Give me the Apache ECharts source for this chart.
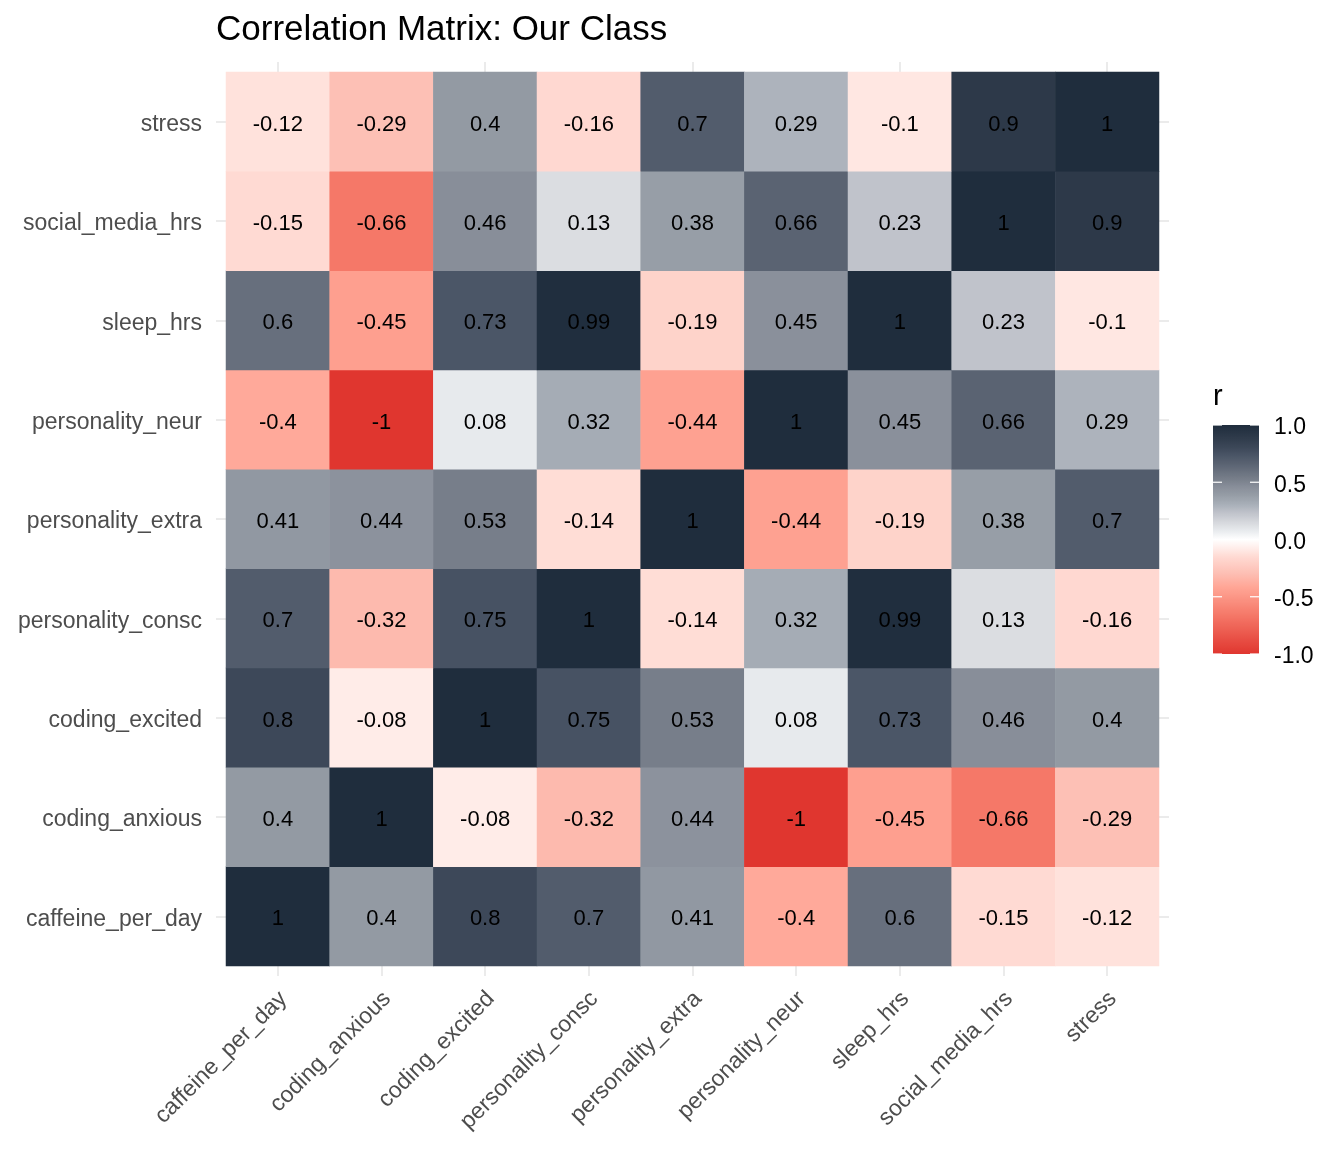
<!DOCTYPE html>
<html>
<head>
<meta charset="utf-8">
<script src="https://cdn.jsdelivr.net/npm/echarts@6/dist/echarts.min.js"></script>
<style>
  html, body { margin: 0; padding: 0; background: #fff; }
  #chart { width: 1344px; height: 1152px; }
</style>
</head>
<body>
<div id="chart"></div>
<script>
// ---- data ----
const variables = ["caffeine_per_day", "coding_anxious", "coding_excited", "personality_consc",
  "personality_extra", "personality_neur", "sleep_hrs", "social_media_hrs", "stress"];

const caffeine_per_day  = [1, 0.4, 0.8, 0.7, 0.41, -0.4, 0.6, -0.15, -0.12];
const coding_anxious    = [0.4, 1, -0.08, -0.32, 0.44, -1, -0.45, -0.66, -0.29];
const coding_excited    = [0.8, -0.08, 1, 0.75, 0.53, 0.08, 0.73, 0.46, 0.4];
const personality_consc = [0.7, -0.32, 0.75, 1, -0.14, 0.32, 0.99, 0.13, -0.16];
const personality_extra = [0.41, 0.44, 0.53, -0.14, 1, -0.44, -0.19, 0.38, 0.7];
const personality_neur  = [-0.4, -1, 0.08, 0.32, -0.44, 1, 0.45, 0.66, 0.29];
const sleep_hrs         = [0.6, -0.45, 0.73, 0.99, -0.19, 0.45, 1, 0.23, -0.1];
const social_media_hrs  = [-0.15, -0.66, 0.46, 0.13, 0.38, 0.66, 0.23, 1, 0.9];
const stress            = [-0.12, -0.29, 0.4, -0.16, 0.7, 0.29, -0.1, 0.9, 1];

const legendTicks = [1.0, 0.5, 0.0, -0.5, -1.0];
const legendTickLabels = ["1.0", "0.5", "0.0", "-0.5", "-1.0"];

const rows = [caffeine_per_day, coding_anxious, coding_excited, personality_consc,
  personality_extra, personality_neur, sleep_hrs, social_media_hrs, stress];

const heatData = [];
rows.forEach((row, yi) => row.forEach((v, xi) => heatData.push([xi, yi, v])));

// ---- colour scale (style) ----
const colorAnchors = [
  [-1, "#E0362F"], [-0.66, "#F57868"], [-0.42, "#FFA595"], [-0.29, "#FDC0B5"],
  [-0.15, "#FFDAD3"], [-0.08, "#FFECE8"], [0, "#FFFFFF"],
  [0.08, "#E7EAED"], [0.13, "#DBDDE1"], [0.23, "#C0C3CB"], [0.31, "#A7AEB7"],
  [0.39, "#959CA5"], [0.455, "#898F9A"], [0.53, "#777E8A"], [0.66, "#5A6372"],
  [0.74, "#495465"], [0.8, "#3D4859"], [0.9, "#2D3949"], [1, "#1F2D3D"]
];
function hexToRgb(h) { return [1, 3, 5].map(i => parseInt(h.substr(i, 2), 16)); }
function rgbToHex(c) { return "#" + c.map(x => Math.round(x).toString(16).padStart(2, "0")).join(""); }
function colorAt(v) {
  for (let i = 0; i < colorAnchors.length - 1; i++) {
    const [a, ca] = colorAnchors[i], [b, cb] = colorAnchors[i + 1];
    if (v >= a && v <= b) {
      const t = (v - a) / (b - a);
      const A = hexToRgb(ca), B = hexToRgb(cb);
      return rgbToHex(A.map((x, k) => x + (B[k] - x) * t));
    }
  }
  return v < 0 ? colorAnchors[0][1] : colorAnchors[colorAnchors.length - 1][1];
}
const NSTOP = 201;
const scaleColors = [];
for (let i = 0; i < NSTOP; i++) scaleColors.push(colorAt(-1 + 2 * i / (NSTOP - 1)));

// ---- layout ----
const GL = 226, GT = 72, GR = 1159, GB = 966;
const FONT = "'Liberation Sans', Arial, Helvetica, sans-serif";
const tickStyle = { show: true, alignWithLabel: true, length: 10, lineStyle: { color: "#EBEBEB", width: 2 } };

// legend geometry
const LB_X = 1213, LB_W = 46, LB_TOP = 425, LB_BOT = 654;
const vToY = v => (LB_TOP + LB_BOT) / 2 - v * (LB_BOT - LB_TOP) / 2;

const gradStops = [];
for (let i = 0; i < NSTOP; i++) {
  const v = 1 - 2 * i / (NSTOP - 1);
  gradStops.push({ offset: i / (NSTOP - 1), color: colorAt(v) });
}

const chart = echarts.init(document.getElementById("chart"), null, { renderer: "canvas" });

const legendGraphics = [
  { type: "text", left: LB_X, top: 382, style: { text: "r", fill: "#000", font: "29px " + FONT } },
  { type: "rect", shape: { x: LB_X, y: LB_TOP, width: LB_W, height: LB_BOT - LB_TOP },
    style: { fill: new echarts.graphic.LinearGradient(0, 0, 0, 1, gradStops) } }
];
legendTicks.forEach((v, i) => {
  const y = vToY(v);
  legendGraphics.push({ type: "line", shape: { x1: LB_X, y1: y, x2: LB_X + 9, y2: y }, style: { stroke: "#FFFFFF", lineWidth: 1.2 } });
  legendGraphics.push({ type: "line", shape: { x1: LB_X + LB_W - 9, y1: y, x2: LB_X + LB_W, y2: y }, style: { stroke: "#FFFFFF", lineWidth: 1.2 } });
  legendGraphics.push({ type: "text", x: 1274, y: y + 3,
    style: { text: legendTickLabels[i], fill: "#000", font: "23px " + FONT, textVerticalAlign: "middle", textAlign: "left" } });
});

chart.setOption({
  animation: false,
  backgroundColor: "#FFFFFF",
  title: {
    text: "Correlation Matrix: Our Class",
    left: 216, top: 13, padding: 0,
    textStyle: { fontSize: 35, fontWeight: "normal", color: "#000", fontFamily: FONT }
  },
  grid: { left: GL, top: GT, right: 1344 - GR, bottom: 1152 - GB, containLabel: false },
  xAxis: [
    {
      type: "category", data: variables, position: "bottom",
      axisLine: { show: false }, axisTick: tickStyle, splitLine: { show: false },
      axisLabel: { rotate: 45, margin: 35, fontSize: 23, color: "#4D4D4D", fontFamily: FONT, interval: 0,
        padding: [0, -8, 0, 0] }
    },
    {
      type: "category", data: variables, position: "top",
      axisLine: { show: false }, axisTick: tickStyle, axisLabel: { show: false }, splitLine: { show: false }
    }
  ],
  yAxis: [
    {
      type: "category", data: variables, position: "left",
      axisLine: { show: false }, axisTick: tickStyle, splitLine: { show: false },
      axisLabel: { margin: 24, interval: 0,
        formatter: v => "{t|" + v + "}",
        rich: { t: { fontSize: 23, color: "#4D4D4D", fontFamily: FONT, padding: [6, 0, 0, 0] } } }
    },
    {
      type: "category", data: variables, position: "right",
      axisLine: { show: false }, axisTick: tickStyle, axisLabel: { show: false }, splitLine: { show: false }
    }
  ],
  visualMap: {
    show: false, type: "continuous", min: -1, max: 1, dimension: 2, seriesIndex: 0,
    inRange: { color: scaleColors }
  },
  series: [{
    type: "heatmap",
    xAxisIndex: 0, yAxisIndex: 0,
    data: heatData,
    label: {
      show: true, color: "#000", fontSize: 22, fontFamily: FONT, offset: [0, 3],
      formatter: p => String(p.value[2])
    },
    itemStyle: { borderWidth: 0 },
    emphasis: { disabled: true }
  }],
  graphic: legendGraphics
});
</script>
</body>
</html>
